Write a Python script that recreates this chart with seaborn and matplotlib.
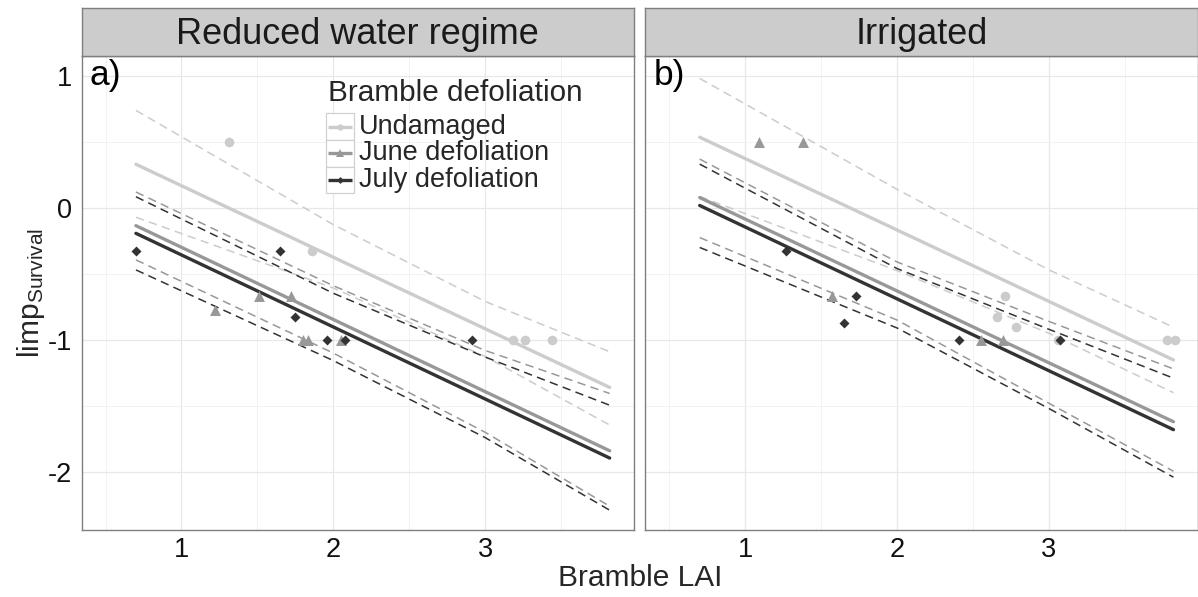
import matplotlib
matplotlib.use("Agg")
import matplotlib.pyplot as plt
from matplotlib.patches import Rectangle
import pandas as pd
import seaborn as sns

sns.set_theme(style="white")
plt.rcParams["font.family"] = ["Liberation Sans", "DejaVu Sans"]
plt.rcParams["mathtext.fontset"] = "custom"
plt.rcParams["mathtext.rm"] = "Liberation Sans"
plt.rcParams["mathtext.it"] = "Liberation Sans:italic"
plt.rcParams["axes.unicode_minus"] = False

# ---------------------------------------------------------------- data
PANELS = ["Reduced water regime", "Irrigated"]
PANEL_TAGS = ["a)", "b)"]
GROUPS = ["Undamaged", "June defoliation", "July defoliation"]

# observed plots: bramble LAI and limp survival (reduced water regime)
red_und_lai = [1.31, 1.86, 3.18, 3.26, 3.44]
red_und_limp = [0.50, -0.33, -1.00, -1.00, -1.00]
red_jun_lai = [1.22, 1.51, 1.72, 1.80, 1.83, 2.05]
red_jun_limp = [-0.77, -0.67, -0.67, -1.00, -1.00, -1.00]
red_jul_lai = [0.70, 1.65, 1.75, 1.96, 2.08, 2.91]
red_jul_limp = [-0.33, -0.33, -0.83, -1.00, -1.00, -1.00]

# observed plots (irrigated)
irr_und_lai = [2.66, 2.71, 2.78, 3.06, 3.78, 3.83]
irr_und_limp = [-0.83, -0.67, -0.90, -1.00, -1.00, -1.00]
irr_jun_lai = [1.09, 1.38, 1.57, 2.55, 2.70]
irr_jun_limp = [0.50, 0.50, -0.67, -1.00, -1.00]
irr_jul_lai = [1.27, 1.65, 1.73, 2.41, 3.07]
irr_jul_limp = [-0.33, -0.87, -0.67, -1.00, -1.00]

# fitted regression lines (ends of the LAI range)
FIT_LAI = [0.70, 3.82]
red_und_fit = [0.33, -1.36]
red_jun_fit = [-0.135, -1.84]
red_jul_fit = [-0.193, -1.895]
irr_und_fit = [0.535, -1.152]
irr_jun_fit = [0.078, -1.62]
irr_jul_fit = [0.018, -1.68]

# 95 % confidence limits of the fits
CI_LAI = [0.70, 2.0, 3.0, 3.82]
red_und_upper = [0.738, -0.127, -0.709, -1.09]
red_und_lower = [-0.071, -0.607, -1.126, -1.645]
red_jun_upper = [0.12, -0.59, -1.08, -1.406]
red_jun_lower = [-0.394, -1.10, -1.70, -2.26]
red_jul_upper = [0.084, -0.647, -1.13, -1.495]
red_jul_lower = [-0.47, -1.157, -1.74, -2.29]
irr_und_upper = [0.98, 0.14, -0.47, -0.904]
irr_und_lower = [0.086, -0.476, -0.95, -1.40]
irr_jun_upper = [0.369, -0.41, -0.86, -1.22]
irr_jun_lower = [-0.225, -0.85, -1.48, -1.995]
irr_jul_upper = [0.331, -0.46, -0.92, -1.29]
irr_jul_lower = [-0.30, -0.91, -1.52, -2.04]

X_TICKS = [1, 2, 3]
Y_TICKS = [-2, -1, 0, 1]

# ---------------------------------------------------------------- tables
points = {
    PANELS[0]: [(red_und_lai, red_und_limp), (red_jun_lai, red_jun_limp), (red_jul_lai, red_jul_limp)],
    PANELS[1]: [(irr_und_lai, irr_und_limp), (irr_jun_lai, irr_jun_limp), (irr_jul_lai, irr_jul_limp)],
}
fits = {
    PANELS[0]: [red_und_fit, red_jun_fit, red_jul_fit],
    PANELS[1]: [irr_und_fit, irr_jun_fit, irr_jul_fit],
}
bands = {
    PANELS[0]: [(red_und_lower, red_und_upper), (red_jun_lower, red_jun_upper), (red_jul_lower, red_jul_upper)],
    PANELS[1]: [(irr_und_lower, irr_und_upper), (irr_jun_lower, irr_jun_upper), (irr_jul_lower, irr_jul_upper)],
}

pt_rows, line_rows = [], []
for panel in PANELS:
    for g, (xs, ys) in zip(GROUPS, points[panel]):
        for x, y in zip(xs, ys):
            pt_rows.append(dict(panel=panel, group=g, lai=x, limp=y))
    for g, fy in zip(GROUPS, fits[panel]):
        for x, y in zip(FIT_LAI, fy):
            line_rows.append(dict(panel=panel, group=g, kind="fit", lai=x, limp=y))
    for g, (lo, up) in zip(GROUPS, bands[panel]):
        for x, y in zip(CI_LAI, lo):
            line_rows.append(dict(panel=panel, group=g, kind="lower", lai=x, limp=y))
        for x, y in zip(CI_LAI, up):
            line_rows.append(dict(panel=panel, group=g, kind="upper", lai=x, limp=y))
pts = pd.DataFrame(pt_rows)
lines = pd.DataFrame(line_rows)

# ---------------------------------------------------------------- style
GREYS = dict(zip(GROUPS, ["#CCCCCC", "#989898", "#333333"]))
MARKERS = dict(zip(GROUPS, ["o", "^", "D"]))
SIZES = dict(zip(GROUPS, [48, 62, 26]))
BORDER = "#7F7F7F"
DASH = (0, (5.5, 3.5))

fig = plt.figure(figsize=(11.98, 5.97), dpi=100)
ax_w, ax_h, ax_b = 0.4610, 0.7940, 0.1122
lefts = [0.0682, 0.5388]

for i, panel in enumerate(PANELS):
    ax = fig.add_axes([lefts[i], ax_b, ax_w, ax_h])
    ax.set_facecolor("white")
    ax.set_xlim(0.343, 3.98)
    ax.set_ylim(-2.44, 1.15)
    ax.set_xticks(X_TICKS)
    ax.set_xticks([0.5, 1.5, 2.5, 3.5], minor=True)
    ax.set_yticks(Y_TICKS)
    ax.set_yticks([-1.5, -0.5, 0.5], minor=True)
    ax.grid(which="major", color="#E8E8E8", lw=0.9, zorder=0)
    ax.grid(which="minor", color="#F2F2F2", lw=0.7, zorder=0)
    ax.set_axisbelow(True)
    for s in ax.spines.values():
        s.set_color(BORDER)
        s.set_linewidth(1.0)
    ax.tick_params(axis="both", which="major", length=3.5, width=0.9,
                   color="#333333", labelsize=19.5, labelcolor="#111111")
    ax.tick_params(axis="x", pad=1.5)
    ax.tick_params(axis="y", pad=3.5)
    ax.tick_params(which="minor", length=0)
    ax.set_xticklabels([str(t) for t in X_TICKS])
    if i == 0:
        ax.set_yticklabels([str(t) for t in Y_TICKS])
    else:
        ax.tick_params(axis="y", which="both", length=0, labelleft=False)

    sub = lines[lines.panel == panel]
    for g in GROUPS:
        for kind in ["upper", "lower"]:
            d = sub[(sub.group == g) & (sub.kind == kind)]
            sns.lineplot(data=d, x="lai", y="limp", ax=ax, color=GREYS[g],
                         lw=1.1, linestyle=DASH, estimator=None, sort=True,
                         legend=False, zorder=3)
    for g in GROUPS:
        d = sub[(sub.group == g) & (sub.kind == "fit")]
        sns.lineplot(data=d, x="lai", y="limp", ax=ax, color=GREYS[g],
                     lw=2.4, estimator=None, legend=False, zorder=4)

    psub = pts[pts.panel == panel]
    for g in GROUPS:
        d = psub[psub.group == g]
        sns.scatterplot(data=d, x="lai", y="limp", ax=ax, color=GREYS[g],
                        marker=MARKERS[g], s=SIZES[g], linewidth=0,
                        legend=False, zorder=5)
    ax.set_xlabel("")
    ax.set_ylabel("")

    ax.text(0.5, 1.0, PANEL_TAGS[i], fontsize=25.5, ha="center", va="center",
            color="black", zorder=6)

    # facet strip
    sax = fig.add_axes([lefts[i], ax_b + ax_h, ax_w, 0.0804])
    sax.set_facecolor("#CCCCCC")
    sax.set_xticks([])
    sax.set_yticks([])
    for s in sax.spines.values():
        s.set_color(BORDER)
        s.set_linewidth(1.0)
    sax.text(0.5, 0.44, panel, fontsize=26, ha="center", va="center",
             transform=sax.transAxes, color="#1a1a1a")

    if i == 0:
        # group key
        tr = ax.transAxes
        ax.text(0.4465, 0.921, "Bramble defoliation", transform=tr,
                fontsize=21.4, ha="left", va="center", zorder=8)
        edges = [0.879, 0.823, 0.766, 0.710]
        kx0, kx1 = 0.4425, 0.4932
        for j, g in enumerate(GROUPS):
            top, bot = edges[j], edges[j + 1]
            yc = (top + bot) / 2
            ax.add_patch(Rectangle((kx0, bot), kx1 - kx0, top - bot,
                                   transform=tr, facecolor="white",
                                   edgecolor="#D0D0D0", lw=0.9, zorder=7))
            ax.plot([kx0 + 0.004, kx1 - 0.004], [yc, yc], transform=tr,
                    color=GREYS[g], lw=2.4, zorder=8, solid_capstyle="butt")
            ax.plot([(kx0 + kx1) / 2], [yc], transform=tr, marker=MARKERS[g],
                    ms={"o": 4.5, "^": 5.5, "D": 3.5}[MARKERS[g]],
                    color=GREYS[g], mew=0, zorder=9)
            ax.text(0.5026, yc, g, transform=tr, fontsize=19.5, ha="left",
                    va="center", zorder=8)

fig.text(0.534, 0.032, "Bramble LAI", fontsize=21.5, ha="center", va="center")
fig.text(0.026, 0.509, r"limp$_{\mathrm{Survival}}$", fontsize=21.5,
         rotation=90, ha="center", va="center")

fig.savefig("out.png", dpi=100)
